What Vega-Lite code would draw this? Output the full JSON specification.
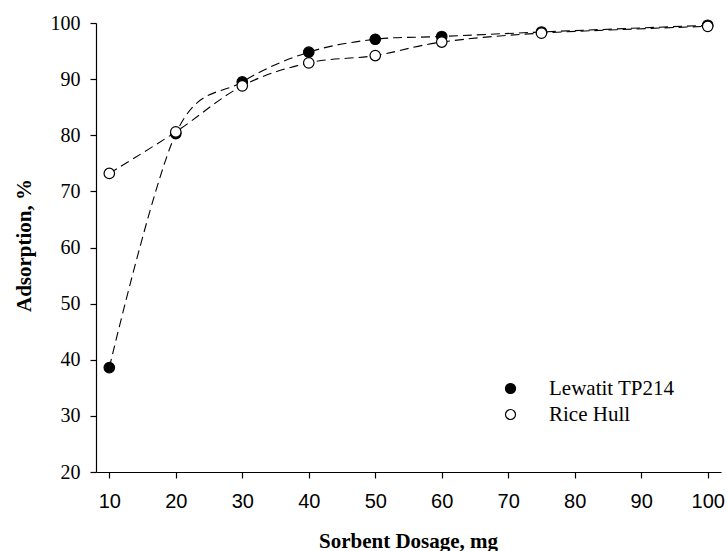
{
  "$schema": "https://vega.github.io/schema/vega-lite/v6.json",
  "width": 625,
  "height": 449,
  "autosize": "none",
  "padding": {"left": 96, "top": 23, "right": 6, "bottom": 79},
  "background": "white",
  "config": {"view": {"stroke": null}},
  "data": {
    "values": [
      {"dosage": 10, "adsorption": 38.6, "sorbent": "Lewatit TP214"},
      {"dosage": 20, "adsorption": 80.3, "sorbent": "Lewatit TP214"},
      {"dosage": 30, "adsorption": 89.5, "sorbent": "Lewatit TP214"},
      {"dosage": 40, "adsorption": 94.8, "sorbent": "Lewatit TP214"},
      {"dosage": 50, "adsorption": 97.1, "sorbent": "Lewatit TP214"},
      {"dosage": 60, "adsorption": 97.6, "sorbent": "Lewatit TP214"},
      {"dosage": 75, "adsorption": 98.4, "sorbent": "Lewatit TP214"},
      {"dosage": 100, "adsorption": 99.6, "sorbent": "Lewatit TP214"},
      {"dosage": 10, "adsorption": 73.2, "sorbent": "Rice Hull"},
      {"dosage": 20, "adsorption": 80.6, "sorbent": "Rice Hull"},
      {"dosage": 30, "adsorption": 88.8, "sorbent": "Rice Hull"},
      {"dosage": 40, "adsorption": 92.9, "sorbent": "Rice Hull"},
      {"dosage": 50, "adsorption": 94.2, "sorbent": "Rice Hull"},
      {"dosage": 60, "adsorption": 96.6, "sorbent": "Rice Hull"},
      {"dosage": 75, "adsorption": 98.2, "sorbent": "Rice Hull"},
      {"dosage": 100, "adsorption": 99.4, "sorbent": "Rice Hull"}
    ]
  },
  "encoding": {
    "x": {
      "field": "dosage",
      "type": "quantitative",
      "scale": {"domain": [8, 102], "nice": false, "zero": false},
      "axis": {
        "values": [10, 20, 30, 40, 50, 60, 70, 80, 90, 100],
        "grid": false,
        "domainColor": "black",
        "domainWidth": 1.2,
        "tickColor": "black",
        "tickWidth": 1.2,
        "tickSize": 6,
        "labelFont": "Liberation Sans",
        "labelFontSize": 20,
        "labelColor": "black",
        "labelPadding": 13,
        "title": "Sorbent Dosage, mg",
        "titleFont": "Liberation Serif",
        "titleFontSize": 21,
        "titleFontWeight": "bold",
        "titleColor": "black",
        "titleBaseline": "alphabetic",
        "titleY": 75,
        "titleX": 312
      }
    },
    "y": {
      "field": "adsorption",
      "type": "quantitative",
      "scale": {"domain": [20, 100], "nice": false, "zero": false},
      "axis": {
        "values": [20, 30, 40, 50, 60, 70, 80, 90, 100],
        "grid": false,
        "domainColor": "black",
        "domainWidth": 1.2,
        "tickColor": "black",
        "tickWidth": 1.2,
        "tickSize": 6,
        "labelFont": "Liberation Serif",
        "labelFontSize": 20,
        "labelColor": "black",
        "labelPadding": 10,
        "title": "Adsorption, %",
        "titleFont": "Liberation Serif",
        "titleFontSize": 21,
        "titleFontWeight": "bold",
        "titleColor": "black",
        "titleAngle": -90,
        "titleBaseline": "alphabetic",
        "titleX": -66,
        "titleY": 222
      }
    }
  },
  "layer": [
    {
      "mark": {"type": "line", "interpolate": "cardinal", "color": "black", "strokeWidth": 1.1, "strokeDash": [9, 5]},
      "encoding": {"detail": {"field": "sorbent", "type": "nominal"}}
    },
    {
      "mark": {"type": "point", "shape": "circle", "filled": true, "size": 110, "stroke": "black", "strokeWidth": 1.2, "opacity": 1},
      "encoding": {
        "fill": {
          "field": "sorbent",
          "type": "nominal",
          "scale": {"domain": ["Lewatit TP214", "Rice Hull"], "range": ["black", "white"]},
          "legend": {
            "title": null,
            "orient": "none",
            "legendX": 404,
            "legendY": 355,
            "padding": 0,
            "symbolType": "circle",
            "symbolSize": 100,
            "symbolStrokeColor": "black",
            "symbolStrokeWidth": 1.2,
            "labelFont": "Liberation Serif",
            "labelFontSize": 21,
            "labelColor": "black",
            "labelOffset": 28,
            "rowPadding": 4
          }
        }
      }
    }
  ]
}
